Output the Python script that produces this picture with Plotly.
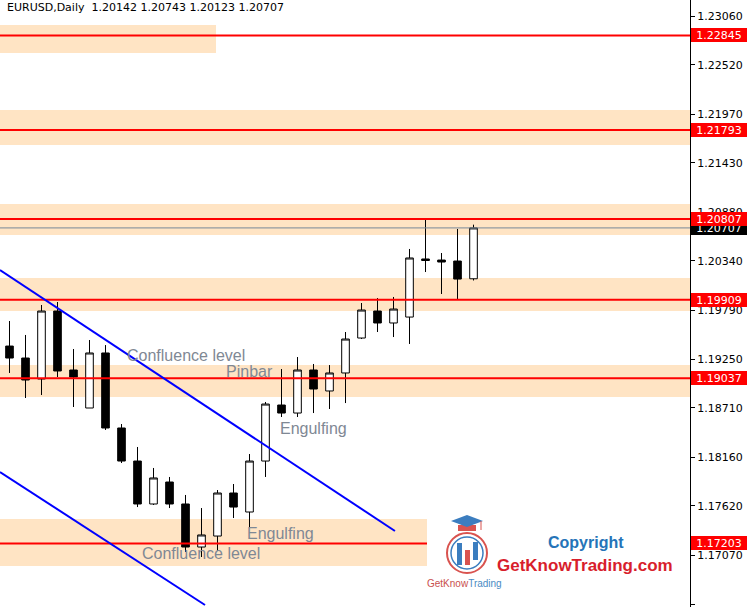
import plotly.graph_objects as go

# ---- data ----
bar_index = list(range(30))
opens  = [1.19395, 1.19262, 1.19029, 1.19784, 1.19129, 1.18707, 1.19318, 1.18485, 1.18118, 1.17641,
          1.17885, 1.17641, 1.17163, 1.17285, 1.17763, 1.17552, 1.18118, 1.18740, 1.18651, 1.19129,
          1.18896, 1.19096, 1.19484, 1.19784, 1.19651, 1.19717, 1.20362, 1.20350, 1.20339, 1.20142]
highs  = [1.19673, 1.19518, 1.19851, 1.19884, 1.19362, 1.19462, 1.19406, 1.18529, 1.18274, 1.18041,
          1.17941, 1.17741, 1.17596, 1.17796, 1.17863, 1.18196, 1.18774, 1.19140, 1.19273, 1.19196,
          1.19184, 1.19551, 1.19873, 1.19928, 1.19940, 1.20473, 1.20795, 1.20428, 1.20695, 1.20743]
lows   = [1.19096, 1.18818, 1.18851, 1.19051, 1.18718, 1.18707, 1.18463, 1.18096, 1.17607, 1.17630,
          1.17596, 1.17108, 1.17052, 1.17119, 1.17485, 1.17385, 1.17941, 1.18607, 1.18607, 1.18651,
          1.18696, 1.18762, 1.19473, 1.19551, 1.19495, 1.19418, 1.20217, 1.19973, 1.19917, 1.20123]
closes = [1.19262, 1.19018, 1.19784, 1.19118, 1.19051, 1.19318, 1.18485, 1.18118, 1.17641, 1.17930,
          1.17641, 1.17163, 1.17297, 1.17763, 1.17607, 1.18118, 1.18751, 1.18651, 1.19129, 1.18918,
          1.19096, 1.19473, 1.19795, 1.19651, 1.19806, 1.20373, 1.20345, 1.20328, 1.20139, 1.20707]

level_prices = [1.22845, 1.21793, 1.20807, 1.19909, 1.19037, 1.17203]
zone_low     = [1.22649, 1.21627, 1.20628, 1.19784, 1.18829, 1.16952]
zone_high    = [1.22960, 1.22016, 1.20972, 1.20150, 1.19184, 1.17474]
current_price = 1.20707

tick_vals = [1.23060, 1.22520, 1.21970, 1.21430, 1.20880, 1.20340, 1.19790,
             1.19250, 1.18710, 1.18160, 1.17620, 1.17070, 1.16530]
tick_text = ["%.5f" % v for v in tick_vals]

channel_upper_x = [-0.594, 24.09]
channel_upper_y = [1.20239, 1.17341]
channel_lower_x = [-0.594, 12.22]
channel_lower_y = [1.17996, 1.16519]

notes_text = ["Confluence level", "Pinbar", "Engulfing", "Engulfing", "Confluence level"]
notes_x    = [7.22, 13.41, 16.79, 14.72, 8.16]
notes_y    = [1.19295, 1.19107, 1.18474, 1.17308, 1.17086]

header = "EURUSD,Daily  1.20142 1.20743 1.20123 1.20707"

# ---- layout helpers (plot area is 690 x 607 px) ----
PW, PH = 690.0, 607.0
def px(x):
    return x / PW
def py(y):
    return 1 - y / PH

fig = go.Figure()
fig.add_trace(go.Candlestick(
    x=bar_index, open=opens, high=highs, low=lows, close=closes,
    increasing=dict(line=dict(color="black", width=1), fillcolor="white"),
    decreasing=dict(line=dict(color="black", width=1), fillcolor="black"),
    whiskerwidth=0, showlegend=False, hoverinfo="skip",
))

shapes = []
zone_right = [216, 690, 690, 690, 690, 427]
for lo, hi, r in zip(zone_low, zone_high, zone_right):
    shapes.append(dict(type="rect", xref="paper", yref="y", x0=0, x1=px(r), y0=lo, y1=hi,
                       fillcolor="#FFE4C4", line=dict(width=0), layer="below"))
# current price line
shapes.append(dict(type="line", xref="paper", yref="y", x0=0, x1=1, y0=current_price, y1=current_price,
                   line=dict(color="#778899", width=1)))
level_right = [690, 690, 690, 690, 690, 427]
for lv, r in zip(level_prices, level_right):
    shapes.append(dict(type="line", xref="paper", yref="y", x0=0, x1=px(r), y0=lv, y1=lv,
                       line=dict(color="#FF0000", width=2)))
for xs, ys in [(channel_upper_x, channel_upper_y), (channel_lower_x, channel_lower_y)]:
    shapes.append(dict(type="line", xref="x", yref="y", x0=xs[0], x1=xs[1], y0=ys[0], y1=ys[1],
                       line=dict(color="#0000FF", width=2)))

# logo decoration
blue_l, red_l = "#3B7DBF", "#D9534F"
shapes += [
    dict(type="circle", xref="paper", yref="paper", x0=px(447), x1=px(487), y0=py(573), y1=py(533),
         line=dict(color=red_l, width=2)),
    dict(type="circle", xref="paper", yref="paper", x0=px(451), x1=px(483), y0=py(569), y1=py(537),
         line=dict(color=blue_l, width=1.5)),
    dict(type="rect", xref="paper", yref="paper", x0=px(457), x1=px(462), y0=py(565), y1=py(543),
         fillcolor=blue_l, line=dict(width=0)),
    dict(type="rect", xref="paper", yref="paper", x0=px(465), x1=px(470), y0=py(565), y1=py(550),
         fillcolor=red_l, line=dict(width=0)),
    dict(type="rect", xref="paper", yref="paper", x0=px(473), x1=px(478), y0=py(560), y1=py(542),
         fillcolor=blue_l, line=dict(width=0)),
    dict(type="rect", xref="paper", yref="paper", x0=px(458), x1=px(476), y0=py(531), y1=py(525),
         fillcolor=red_l, line=dict(width=0)),
    dict(type="path", xref="paper", yref="paper",
         path="M %f,%f L %f,%f L %f,%f L %f,%f Z" % (px(451), py(521), px(467), py(515), px(483), py(521), px(467), py(527)),
         fillcolor=blue_l, line=dict(width=0)),
    dict(type="line", xref="paper", yref="paper", x0=px(481), x1=px(481), y0=py(521), y1=py(530),
         line=dict(color=red_l, width=1)),
]

annotations = []
# price labels on the axis (current price first so red overlaps it)
annotations.append(dict(xref="paper", yref="y", x=1, y=current_price, xanchor="left", yanchor="middle",
                        xshift=1, text="%.5f" % current_price, showarrow=False, bgcolor="black",
                        font=dict(family="DejaVu Sans", size=11, color="white"),
                        width=54, height=12, borderpad=1, borderwidth=0))
for lv in level_prices:
    annotations.append(dict(xref="paper", yref="y", x=1, y=lv, xanchor="left", yanchor="middle",
                            xshift=1, text="%.5f" % lv, showarrow=False, bgcolor="#FF0000",
                            font=dict(family="DejaVu Sans", size=11, color="white"),
                            width=54, height=12, borderpad=1, borderwidth=0))
for t, x, y in zip(notes_text, notes_x, notes_y):
    annotations.append(dict(xref="x", yref="y", x=x, y=y, xanchor="left", yanchor="middle",
                            text=t, showarrow=False,
                            font=dict(family="Liberation Sans", size=16, color="#7F8894")))
annotations.append(dict(xref="paper", yref="paper", x=px(5), y=py(8), xanchor="left", yanchor="middle",
                        text=header, showarrow=False,
                        font=dict(family="DejaVu Sans", size=11, color="black")))
annotations += [
    dict(xref="paper", yref="paper", x=px(586), y=py(542), xanchor="center", yanchor="middle",
         text="<b>Copyright</b>", showarrow=False,
         font=dict(family="Liberation Sans", size=16, color="#2574B8")),
    dict(xref="paper", yref="paper", x=px(585), y=py(565), xanchor="center", yanchor="middle",
         text="<b>GetKnowTrading.com</b>", showarrow=False,
         font=dict(family="Liberation Sans", size=17, color="#D81E2C")),
    dict(xref="paper", yref="paper", x=px(464), y=py(583), xanchor="center", yanchor="middle",
         text="<span style='color:#C9504E'>GetKnow</span><span style='color:#4A8CC4'>Trading</span>",
         showarrow=False, font=dict(family="Liberation Sans", size=10)),
]

fig.update_layout(
    width=748, height=607, autosize=False,
    margin=dict(l=0, r=58, t=0, b=0, pad=0),
    paper_bgcolor="white", plot_bgcolor="white",
    boxgap=0.32,
    shapes=shapes, annotations=annotations,
    showlegend=False,
    xaxis=dict(range=[-0.594, 42.53], visible=False, rangeslider=dict(visible=False), fixedrange=True),
    yaxis=dict(range=[1.16497, 1.23238], side="right", showgrid=False, zeroline=False,
               tickmode="array", tickvals=tick_vals, ticktext=tick_text,
               ticks="outside", ticklen=4, tickcolor="black", showline=True,
               linecolor="black", linewidth=1,
               tickfont=dict(family="DejaVu Sans", size=11, color="black"), fixedrange=True),
)

fig.write_html("out.html", config={"displayModeBar": False},
               post_script="document.body.style.margin='0px';document.body.style.overflow='hidden';")
